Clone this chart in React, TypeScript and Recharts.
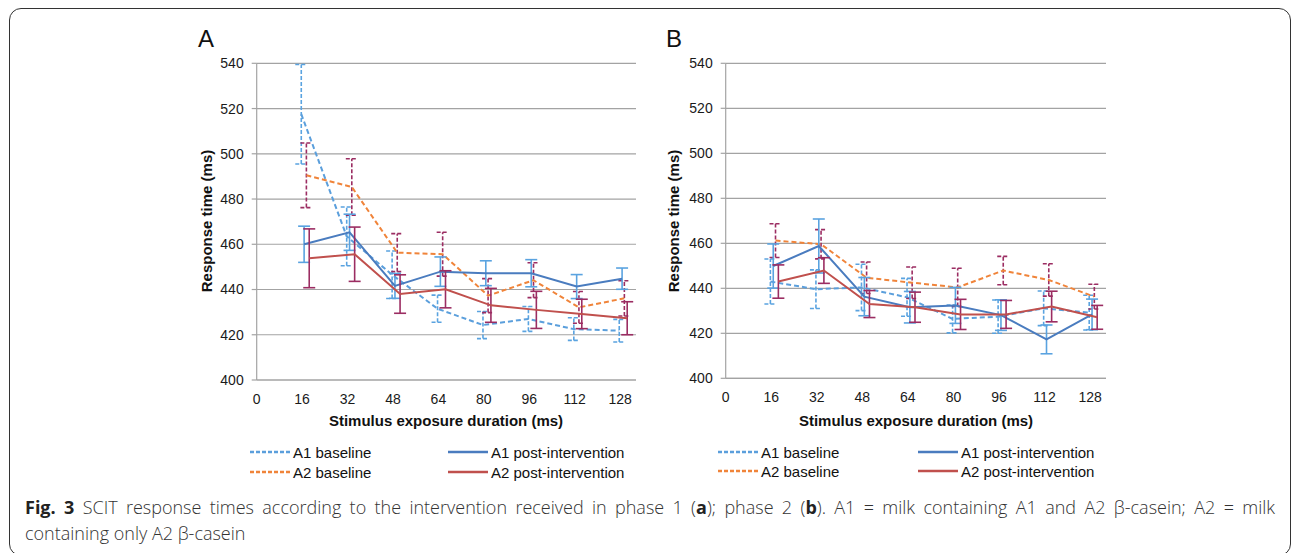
import React from "react";
import { ComposedChart, Line, XAxis, YAxis, CartesianGrid, ErrorBar } from "recharts";

// ---- data ----
const durations = [16, 32, 48, 64, 80, 96, 112, 128];
const xTicks = [0, 16, 32, 48, 64, 80, 96, 112, 128];
const yTicks = [400, 420, 440, 460, 480, 500, 520, 540];

// Phase 1 (A)
const a1BaseA = [517.5, 463.5, 446.5, 431.5, 424.3, 427, 422.5, 421.8];
const a1BaseAErr = [22, 13, 10.5, 6, 6, 5.5, 5, 5];
const a1PostA = [460, 465.3, 441.6, 447.9, 447.2, 447.2, 441.3, 444.8];
const a1PostAErr = [8, 8, 5.5, 6.5, 5.5, 6, 5.3, 4.7];
const a2BaseA = [490.5, 485.3, 456.3, 455.6, 437.3, 444.1, 432.1, 436.1];
const a2BaseAErr = [14.3, 12.5, 8.4, 9.7, 7.5, 7.7, 7, 7.8];
const a2PostA = [453.8, 455.6, 438, 440.1, 433, 431, 429.2, 427.3];
const a2PostAErr = [13, 12, 8.5, 8.2, 7.5, 8.2, 6.5, 7.3];

// Phase 2 (B)
const a1BaseB = [443, 439.6, 440.4, 436, 426.4, 427.4, 431.1, 429.2];
const a1BaseBErr = [10, 8.6, 10.3, 8.4, 6.2, 7.4, 7.7, 7.7];
const a1PostB = [449.9, 458.8, 436.3, 431.6, 432.4, 428.1, 417.3, 428.4];
const a1PostBErr = [9.8, 12, 8.5, 7, 8, 6.8, 6.4, 6.8];
const a2BaseB = [461.2, 459.6, 444.7, 442.5, 440.4, 447.9, 443.7, 436.3];
const a2BaseBErr = [7.5, 6.5, 7, 7, 8.5, 6.3, 7.2, 5.5];
const a2PostB = [443, 447.9, 433, 431.6, 428.4, 428.4, 431.9, 427.1];
const a2PostBErr = [7.4, 5.7, 6, 6.7, 6.7, 6.2, 6.8, 5.3];

const seriesNames = ["A1 baseline", "A1 post-intervention", "A2 baseline", "A2 post-intervention"];
const xOffsets = [-0.3, 0.7, 1.5, 2.5];

// ---- styles ----
const C_A1BASE = "#5b9fdc";
const C_A1POST = "#4a7cbf";
const C_A2BASE = "#f0843a";
const C_A2POST = "#c0504d";
const C_ERR_A1 = "#5aa3e0";
const C_ERR_A2 = "#9b2d62";
const FONT = "'Liberation Sans', Arial, Helvetica, sans-serif";

const makeSeries = (vals: number[], errs: number[], off: number) =>
  durations.map((d, i) => ({ x: d + off, y: vals[i], err: errs[i] }));

type PanelProps = {
  left: number;
  top: number;
  yAxisWidth: number;
  marginBottom: number;
  vals: number[][];
  errs: number[][];
};

const lineStyles = [
  { stroke: C_A1BASE, dash: "5 3", err: C_ERR_A1, errDash: "4 2" },
  { stroke: C_A1POST, dash: undefined, err: C_ERR_A1, errDash: undefined },
  { stroke: C_A2BASE, dash: "5 3", err: C_ERR_A2, errDash: "4 2" },
  { stroke: C_A2POST, dash: undefined, err: C_ERR_A2, errDash: undefined },
];

function Panel({ left, top, yAxisWidth, marginBottom, vals, errs }: PanelProps) {
  const drawOrder = [0, 2, 1, 3];
  return (
    <div style={{ position: "absolute", left, top }}>
      <ComposedChart
        width={460}
        height={400}
        margin={{ top: 23.3, right: 14, bottom: marginBottom, left: 0 }}
      >
        <CartesianGrid horizontal vertical={false} stroke="#a3a3a3" strokeWidth={1.2} />
        <XAxis
          type="number"
          dataKey="x"
          domain={[0, 133.6]}
          ticks={xTicks}
          interval={0}
          height={30}
          axisLine={{ stroke: "#a3a3a3", strokeWidth: 1.2 }}
          tickLine={false}
          tickMargin={8}
          tick={{ fill: "#1a1a1a", fontSize: 14, fontFamily: FONT }}
          allowDataOverflow
        />
        <YAxis
          type="number"
          domain={[400, 540]}
          ticks={yTicks}
          interval={0}
          width={yAxisWidth}
          axisLine={{ stroke: "#a3a3a3", strokeWidth: 1.2 }}
          tickLine={{ stroke: "#a3a3a3", strokeWidth: 1.2 }}
          tickSize={5}
          tickMargin={8}
          tick={{ fill: "#1a1a1a", fontSize: 14, fontFamily: FONT }}
          allowDataOverflow
        />
        {drawOrder.map((si) => {
          const st = lineStyles[si];
          return (
            <Line
              key={si}
              name={seriesNames[si]}
              data={makeSeries(vals[si], errs[si], xOffsets[si])}
              dataKey="y"
              type="linear"
              stroke={st.stroke}
              strokeWidth={2}
              strokeDasharray={st.dash}
              dot={false}
              activeDot={false}
              isAnimationActive={false}
            >
              <ErrorBar
                dataKey="err"
                direction="y"
                width={6}
                stroke={st.err}
                strokeWidth={1.6}
                strokeDasharray={st.errDash}
                isAnimationActive={false}
              />
            </Line>
          );
        })}
      </ComposedChart>
    </div>
  );
}

function LegendSample({ color, dash }: { color: string; dash?: string }) {
  return (
    <svg width={40} height={6} style={{ display: "block" }}>
      <line x1={0} y1={3} x2={40} y2={3} stroke={color} strokeWidth={2.5} strokeDasharray={dash} />
    </svg>
  );
}

function LegendItem({ x, y, si }: { x: number; y: number; si: number }) {
  const st = lineStyles[si];
  return (
    <div
      style={{
        position: "absolute",
        left: x,
        top: y - 10,
        height: 20,
        display: "flex",
        alignItems: "center",
        gap: 3,
        fontFamily: FONT,
        fontSize: 15,
        color: "#111",
        whiteSpace: "nowrap",
      }}
    >
      <LegendSample color={st.stroke} dash={st.dash ? "4 2" : undefined} />
      <span>{seriesNames[si]}</span>
    </div>
  );
}

function AxisTitles({ xCenter, xTitleY, yTitleX, yTitleY, letter, letterX }: any) {
  return (
    <>
      <div
        style={{
          position: "absolute",
          left: letterX,
          top: 24,
          fontFamily: FONT,
          fontSize: 24,
          color: "#111",
          lineHeight: "30px",
        }}
      >
        {letter}
      </div>
      <div
        style={{
          position: "absolute",
          left: xCenter - 150,
          top: xTitleY - 10,
          width: 300,
          textAlign: "center",
          fontFamily: FONT,
          fontSize: 15,
          fontWeight: 700,
          color: "#111",
          lineHeight: "20px",
        }}
      >
        Stimulus exposure duration (ms)
      </div>
      <div
        style={{
          position: "absolute",
          left: yTitleX - 100,
          top: yTitleY - 10,
          width: 200,
          height: 20,
          textAlign: "center",
          fontFamily: FONT,
          fontSize: 15,
          fontWeight: 700,
          color: "#111",
          lineHeight: "20px",
          transform: "rotate(-90deg)",
        }}
      >
        Response time (ms)
      </div>
    </>
  );
}

const bold = { fontWeight: 700, color: "#222" } as const;

export default function App() {
  return (
    <div
      style={{
        position: "absolute",
        left: 0,
        top: 0,
        width: 1292,
        height: 553,
        overflow: "hidden",
        background: "#fff",
      }}
    >
      <div
        style={{
          position: "absolute",
          left: 9,
          top: 8,
          width: 1282,
          height: 548,
          border: "1.5px solid #333",
          borderRadius: 12,
          boxSizing: "border-box",
        }}
      />
      <Panel
        left={190}
        top={40}
        yAxisWidth={66.7}
        marginBottom={30}
        vals={[a1BaseA, a1PostA, a2BaseA, a2PostA]}
        errs={[a1BaseAErr, a1PostAErr, a2BaseAErr, a2PostAErr]}
      />
      <Panel
        left={660}
        top={40}
        yAxisWidth={65.7}
        marginBottom={31.7}
        vals={[a1BaseB, a1PostB, a2BaseB, a2PostB]}
        errs={[a1BaseBErr, a1PostBErr, a2BaseBErr, a2PostBErr]}
      />
      <AxisTitles xCenter={446} xTitleY={421} yTitleX={207} yTitleY={221} letter="A" letterX={198} />
      <AxisTitles xCenter={916} xTitleY={421} yTitleX={674} yTitleY={221} letter="B" letterX={666} />

      <LegendItem x={250} y={452} si={0} />
      <LegendItem x={448} y={452} si={1} />
      <LegendItem x={250} y={472} si={2} />
      <LegendItem x={448} y={472} si={3} />
      <LegendItem x={718} y={452} si={0} />
      <LegendItem x={918} y={452} si={1} />
      <LegendItem x={718} y={471} si={2} />
      <LegendItem x={918} y={471} si={3} />

      <div
        style={{
          position: "absolute",
          left: 25,
          top: 494,
          width: 1250,
          fontFamily: "'Open Sans', 'Noto Sans', sans-serif",
          fontWeight: 300,
          fontSize: 18,
          lineHeight: "26px",
          color: "#333",
          whiteSpace: "nowrap",
        }}
      >
        <div style={{ textAlign: "justify", textAlignLast: "justify", whiteSpace: "normal" }}>
          <b style={bold}>Fig. 3</b> SCIT response times according to the intervention received in phase 1 (
          <b style={bold}>a</b>); phase 2 (<b style={bold}>b</b>). A1 = milk containing A1 and A2 β-casein; A2 = milk
        </div>
        <div>containing only A2 β-casein</div>
      </div>
    </div>
  );
}
